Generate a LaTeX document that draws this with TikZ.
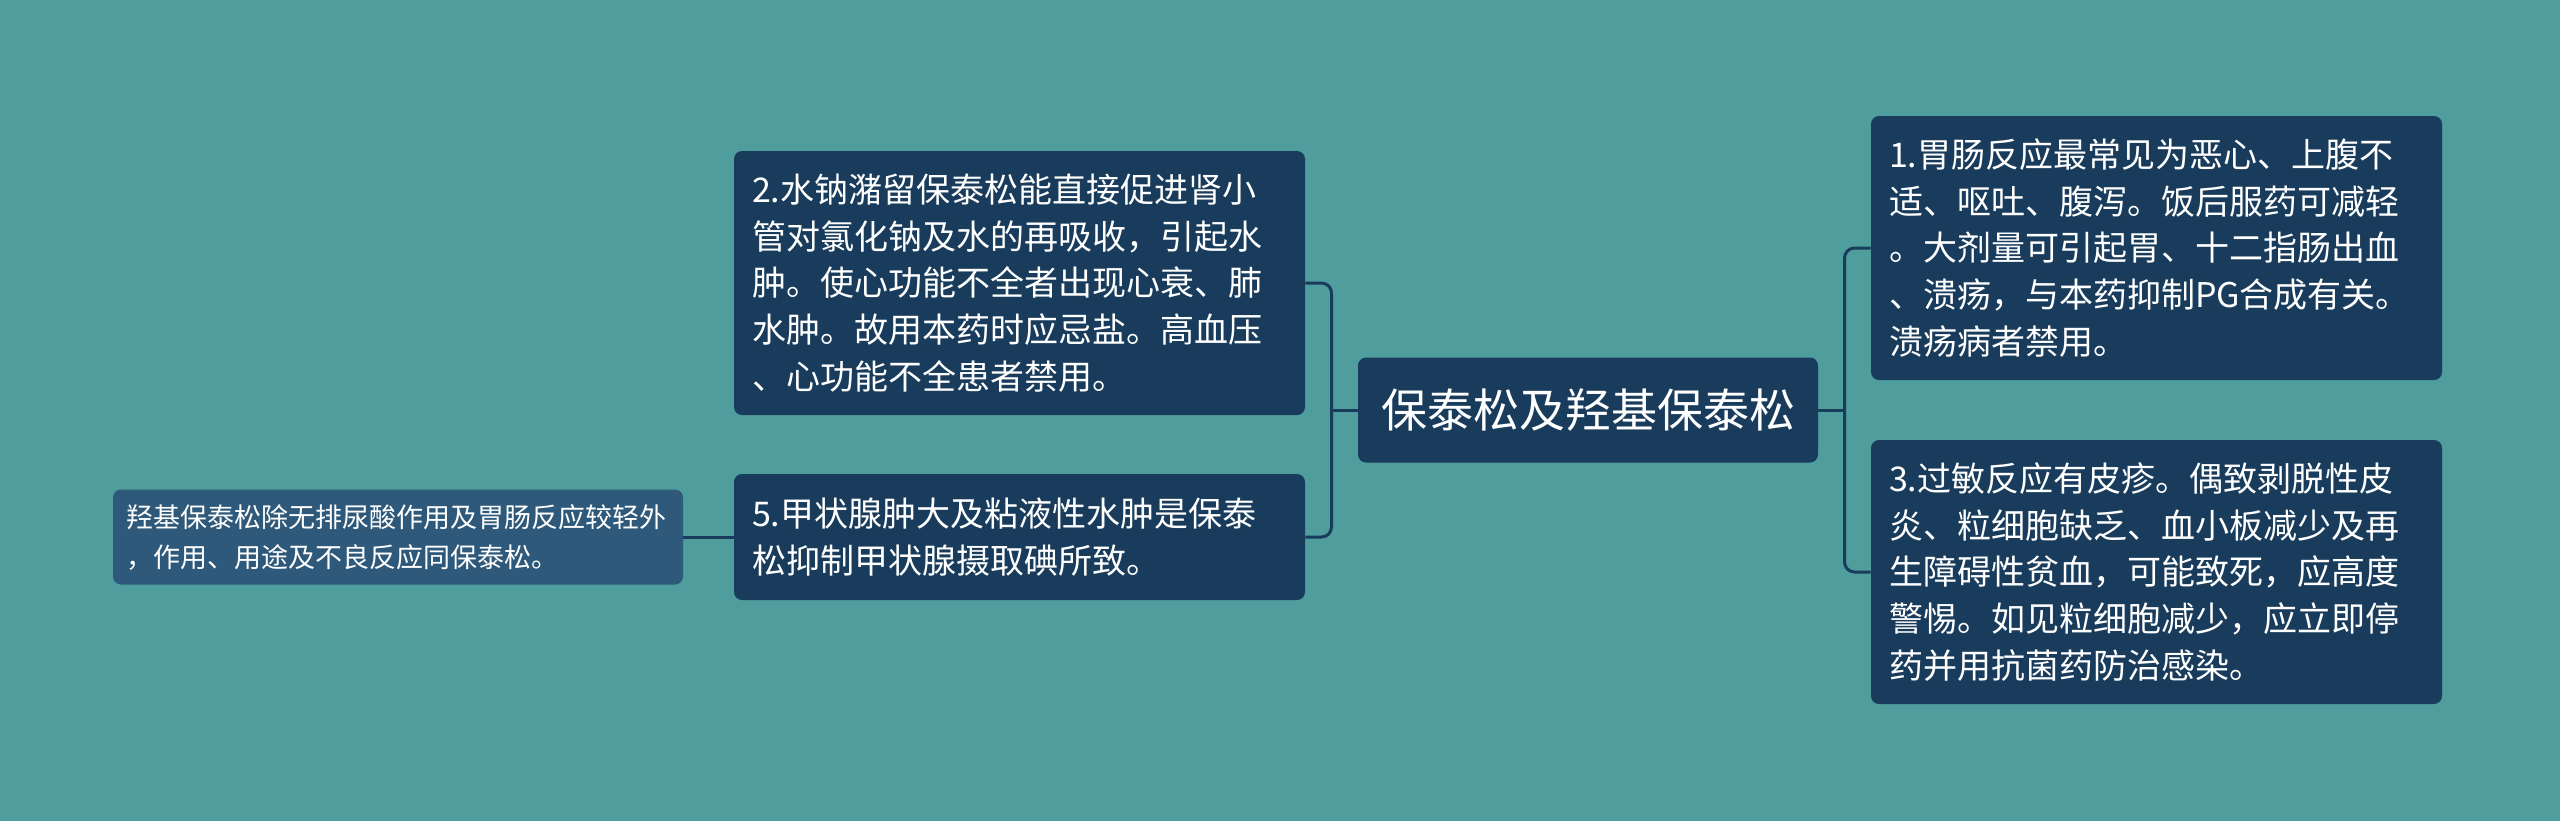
\documentclass[tikz,border=0pt]{standalone}
\usepackage{fontspec}
\setmainfont{Noto Sans CJK SC}
\usepackage{tikz}
\usetikzlibrary{calc,positioning}
\definecolor{bgteal}{RGB}{79,157,157}
\definecolor{boxblue}{RGB}{25,60,92}
\definecolor{subblue}{RGB}{46,89,122}
\tikzset{
node distance=4cm, % overridden per node below
topic/.style={fill=boxblue, text=white, rounded corners=4pt, inner sep=0pt,
  minimum width=230pt, minimum height=52.5pt, font=\fontsize{23pt}{28pt}\selectfont},
note/.style={fill=boxblue, text=white, rounded corners=4pt, inner xsep=9pt, inner ysep=0pt,
  text width=267.5pt, align=left, font=\fontsize{17pt}{23.35pt}\selectfont},
subnote/.style={fill=subblue, text=white, rounded corners=4pt, inner xsep=6.5pt, inner ysep=0pt,
  text width=272pt, align=left, minimum height=47.5pt, font=\fontsize{13.5pt}{20pt}\selectfont},
link/.style={draw=boxblue, line width=1.5pt, rounded corners=5pt},
}

\begin{document}
\begin{tikzpicture}[x=0.5pt,y=-0.5pt,on grid]
   \fill[bgteal] (0,0) rectangle (2560,821);
   \useasboundingbox (0,0) rectangle (2560,821);
   \node[topic] (c_0) at (1588,410) {保泰松及羟基保泰松};
   \node[note, minimum height=132pt] (c_1) [above right=81pt and 284.25pt of c_0]
     {1.胃肠反应最常见为恶心、上腹不\\适、呕吐、腹泻。饭后服药可减轻\\。大剂量可引起胃、十二指肠出血\\、溃疡，与本药抑制PG合成有关。\\溃疡病者禁用。};
   \node[note, minimum height=132pt] (c_3) [below right=81pt and 284.25pt of c_0]
     {3.过敏反应有皮疹。偶致剥脱性皮\\炎、粒细胞缺乏、血小板减少及再\\生障碍性贫血，可能致死，应高度\\警惕。如见粒细胞减少，应立即停\\药并用抗菌药防治感染。};
   \node[note, minimum height=132pt] (c_2) [above left=63.5pt and 284.25pt of c_0]
     {2.水钠潴留保泰松能直接促进肾小\\管对氯化钠及水的再吸收，引起水\\肿。使心功能不全者出现心衰、肺\\水肿。故用本药时应忌盐。高血压\\、心功能不全患者禁用。};
   \node[note, minimum height=63pt] (c_5) [below left=63.5pt and 284.25pt of c_0]
     {5.甲状腺肿大及粘液性水肿是保泰\\松抑制甲状腺摄取碘所致。};
   \node[subnote] (c_6) [left=310.75pt of c_5]
     {羟基保泰松除无排尿酸作用及胃肠反应较轻外\\，作用、用途及不良反应同保泰松。};
   % forks between the root and its children
   \coordinate (f_l) at ($(c_0.west)!0.5!(c_2.east |- c_0.west)$);
   \coordinate (f_r) at ($(c_0.east)!0.5!(c_1.west |- c_0.east)$);
   \draw[link] (c_2.east) -| (f_l) |- (c_5.east);
   \draw[link] (c_0.west) -- (f_l);
   \draw[link] (c_1.west) -| (f_r) |- (c_3.west);
   \draw[link] (c_0.east) -- (f_r);
   \draw[link] (c_6.east) -- (c_5.west);
\end{tikzpicture}
\end{document}
